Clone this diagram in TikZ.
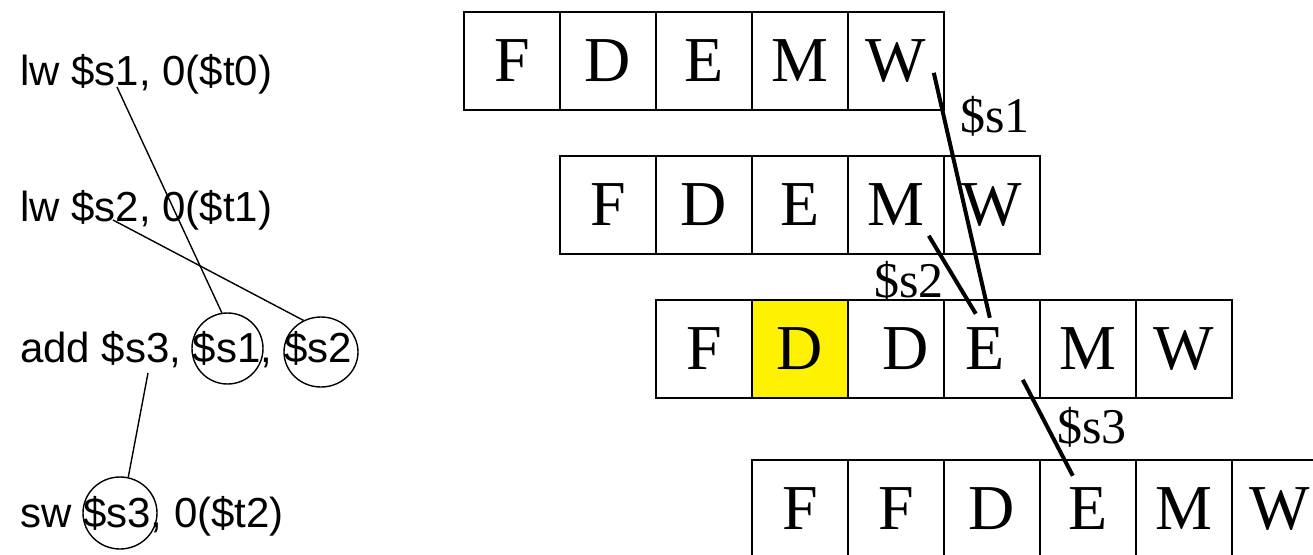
\documentclass[tikz,border=0pt]{standalone}
\usepackage{fontspec}
\setmainfont{Liberation Serif}
\newfontfamily\arialf{Liberation Sans}
\usetikzlibrary{shapes.geometric}
\begin{document}
\begin{tikzpicture}[x=1pt,y=-1pt,
  stagebox/.style={draw,line width=1.6pt,minimum width=96pt,minimum height=98pt,
    inner sep=0pt,anchor=north west,font=\fontsize{64}{64}\selectfont},
  stall/.style={stagebox,fill=yellow},
  instr/.style={anchor=base west,inner sep=0pt,font=\arialf\fontsize{42}{42}\selectfont},
  regcirc/.style={draw,ellipse,line width=1.4pt,inner sep=0pt},
  thinlink/.style={line width=1.4pt},
  fwd/.style={line width=4pt},
  reglabel/.style={anchor=base west,inner sep=0pt,font=\fontsize{50}{50}\selectfont}]
\useasboundingbox (0,0) rectangle (1313,554);
\clip (0,0) rectangle (1313,554);

% instructions
\node[instr] (i1) at (20,85) {lw \$s1, 0(\$t0)};
\node[instr] (i2) at (20,221) {lw \$s2, 0(\$t1)};
\node[instr] (i3) at (20,362) {add \$s3, \$s1, \$s2};
\node[instr] (i4) at (20,527) {sw \$s3, 0(\$t2)};

\node[regcirc,minimum width=71pt,minimum height=71pt] (e1) at (227.5,348.5) {};
\node[regcirc,minimum width=74pt,minimum height=70pt] (e2) at (321,352) {};
\node[regcirc,minimum width=74pt,minimum height=72pt] (e3) at (120,513) {};

\draw[thinlink] ([shift={(97,2)}]i1.base west) -- (e1.99);
\draw[thinlink] ([shift={(93,-1)}]i2.base west) -- (e2.119);
\draw[thinlink] ([shift={(128,11)}]i3.base west) -- (e3.77);

% pipeline rows
\foreach \l [count=\i] in {F,D,E,M,W}
  \node[stagebox] (a\i) at (463+96*\i-96,11) {\l};
\foreach \l [count=\i] in {F,D,E,M,W}
  \node[stagebox] (b\i) at (559+96*\i-96,155) {\l};
\node[stagebox] (c1) at (655,299) {F};
\node[stall]    (c2) at (751,299) {D};
\node[stagebox] (c3) at (847,299) {\hspace*{20pt}D};
\node[stagebox] (c4) at (943,299) {E\hspace*{14pt}};
\node[stagebox] (c5) at (1039,299) {M};
\node[stagebox] (c6) at (1135,299) {W};
\foreach \l [count=\i] in {F,F,D,E,M,W}
  \node[stagebox] (d\i) at (751+96*\i-96,459) {\l};

% forwarding
\draw[fwd] ([shift={(38,12)}]a5.center) -- ([shift={(-2,-31)}]c4.center);
\draw[fwd] ([shift={(33,31)}]b4.center) -- ([shift={(-16,-35)}]c4.center);
\draw[fwd] ([shift={(31,31)}]c4.center) -- ([shift={(-15,-33)}]d4.center);

\node[reglabel] (l1) at (960,132) {\$s1};
\node[reglabel] (l2) at (874,297) {\$s2};
\node[reglabel] (l3) at (1057,443) {\$s3};
\end{tikzpicture}
\end{document}
